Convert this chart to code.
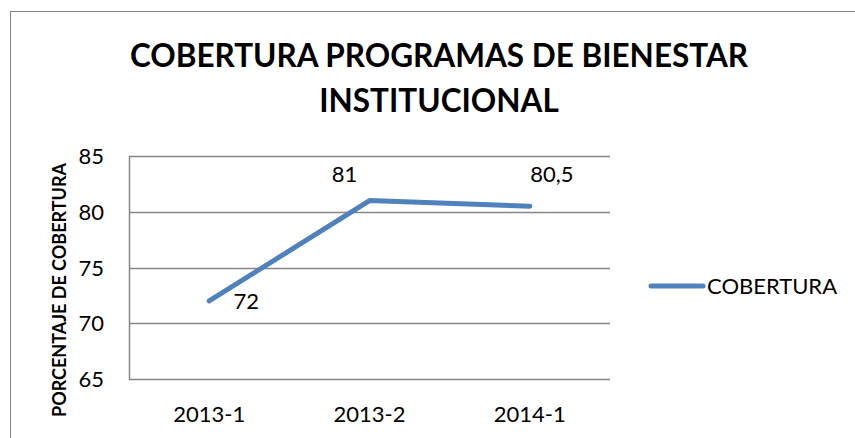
<!DOCTYPE html>
<html>
<head>
<meta charset="utf-8">
<script src="https://cdn.jsdelivr.net/npm/d3@7"></script>
<style>
  body { margin: 0; background: #fff; }
  text { font-family: Lato, "Open Sans", sans-serif; }
</style>
</head>
<body>
<div id="chart"></div>
<script>
const periods = ["2013-1", "2013-2", "2014-1"];
const cobertura = [72, 81, 80.5];
const yTicks = [65, 70, 75, 80, 85];
const seriesName = "COBERTURA";

const width = 855;
const height = 438;

const svg = d3
  .select("#chart")
  .append("svg")
  .attr("width", width)
  .attr("height", height);

// chart border
svg
  .append("rect")
  .attr("x", 10.5)
  .attr("y", 11.5)
  .attr("width", 860)
  .attr("height", 440)
  .attr("fill", "#fff")
  .attr("stroke", "#868686")
  .attr("stroke-width", 1);

const plot = { left: 129, right: 610, top: 156, bottom: 379 };

const x = d3
  .scaleBand()
  .domain(periods)
  .range([plot.left, plot.right]);

const y = d3
  .scaleLinear()
  .domain([65, 85])
  .range([plot.bottom, plot.top]);

// gridlines
svg
  .selectAll("line.grid")
  .data(yTicks)
  .join("line")
  .attr("class", "grid")
  .attr("x1", plot.left)
  .attr("x2", plot.right)
  .attr("y1", (d) => Math.round(y(d)) + 0.5)
  .attr("y2", (d) => Math.round(y(d)) + 0.5)
  .attr("stroke", "#868686")
  .attr("stroke-width", 1.5);

// left axis line
svg
  .append("line")
  .attr("x1", plot.left + 0.5)
  .attr("x2", plot.left + 0.5)
  .attr("y1", plot.top)
  .attr("y2", plot.bottom + 1)
  .attr("stroke", "#868686")
  .attr("stroke-width", 1.5);

// y tick labels
svg
  .selectAll("text.ytick")
  .data(yTicks)
  .join("text")
  .attr("class", "ytick")
  .attr("x", 104)
  .attr("y", (d) => y(d) + 8)
  .attr("text-anchor", "end")
  .style("font-size", "22px")
  .text((d) => d);

// x tick labels
svg
  .selectAll("text.xtick")
  .data(periods)
  .join("text")
  .attr("class", "xtick")
  .attr("x", (d) => x(d) + x.bandwidth() / 2)
  .attr("y", 422)
  .attr("text-anchor", "middle")
  .style("font-size", "22px")
  .text((d) => d);

// title
svg
  .append("text")
  .attr("text-anchor", "middle")
  .style("font-size", "31.5px")
  .style("font-weight", "bold")
  .selectAll("tspan")
  .data(["COBERTURA PROGRAMAS DE BIENESTAR", "INSTITUCIONAL"])
  .join("tspan")
  .attr("x", 439)
  .attr("y", (d, i) => 67 + i * 45)
  .text((d) => d);

// y axis title
svg
  .append("text")
  .attr("transform", "translate(66,290) rotate(-90)")
  .attr("text-anchor", "middle")
  .style("font-size", "18px")
  .style("font-weight", "bold")
  .text("PORCENTAJE DE COBERTURA");

// line
const line = d3
  .line()
  .x((d, i) => x(periods[i]) + x.bandwidth() / 2)
  .y((d) => y(d));

svg
  .append("path")
  .datum(cobertura)
  .attr("d", line)
  .attr("fill", "none")
  .attr("stroke", "#4f81bd")
  .attr("stroke-width", 5)
  .attr("stroke-linecap", "round")
  .attr("stroke-linejoin", "round");

// data labels
const labelOffsets = [
  [37, 8],
  [-25, -19],
  [22, -24],
];

svg
  .selectAll("text.dlabel")
  .data(cobertura)
  .join("text")
  .attr("class", "dlabel")
  .attr("x", (d, i) => x(periods[i]) + x.bandwidth() / 2 + labelOffsets[i][0])
  .attr("y", (d, i) => y(d) + labelOffsets[i][1])
  .attr("text-anchor", "middle")
  .style("font-size", "22px")
  .text((d) => String(d).replace(".", ","));

// legend
svg
  .append("line")
  .attr("x1", 651)
  .attr("x2", 703)
  .attr("y1", 286)
  .attr("y2", 286)
  .attr("stroke", "#4f81bd")
  .attr("stroke-width", 5)
  .attr("stroke-linecap", "round");

svg
  .append("text")
  .attr("x", 707)
  .attr("y", 294)
  .style("font-size", "22px")
  .text(seriesName);
</script>
</body>
</html>
